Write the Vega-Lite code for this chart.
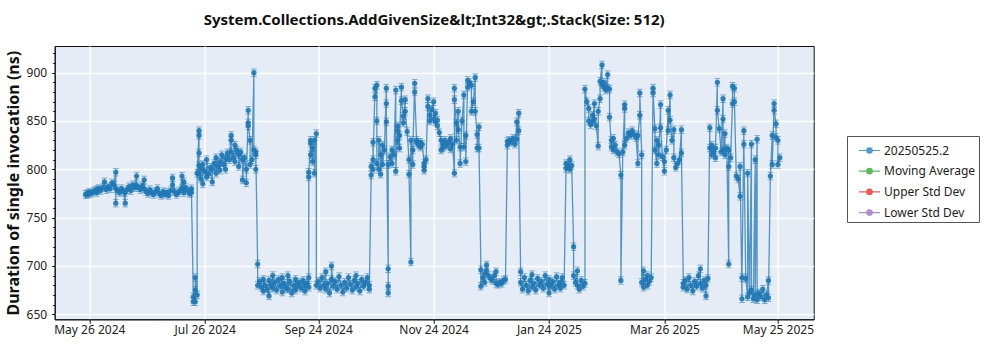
{
"$schema": "https://vega.github.io/schema/vega-lite/v6.json",
"width": 759,
"height": 273.3,
"autosize": {"type": "none"},
"padding": {"left": 54.7, "top": 46, "right": 186.3, "bottom": 30.7},
"background": "white",
"title": {"text": "System.Collections.AddGivenSize&lt;Int32&gt;.Stack(Size: 512)", "anchor": "middle", "frame": "group", "font": "Noto Sans", "fontSize": 15, "fontWeight": "bold", "color": "#111", "offset": 18},
"config": {
  "view": {"fill": "#E5ECF6", "stroke": "#111", "strokeWidth": 1},
  "axis": {"labelFont": "Noto Sans", "titleFont": "Noto Sans", "labelFontSize": 12, "labelColor": "#222", "tickColor": "#111", "domainColor": "#111", "gridColor": "white", "gridWidth": 1.4},
  "legend": {"labelFont": "Noto Sans"}
},
"data": {"values": [
{"d":"2024-05-24","v":774},{"d":"2024-05-25","v":775},{"d":"2024-05-25","v":774},{"d":"2024-05-26","v":776},{"d":"2024-05-27","v":775},{"d":"2024-05-28","v":777},{"d":"2024-05-29","v":778},{"d":"2024-05-30","v":779},{"d":"2024-05-30","v":776},{"d":"2024-05-31","v":780},
{"d":"2024-06-01","v":778},{"d":"2024-06-02","v":781},{"d":"2024-06-03","v":787},{"d":"2024-06-04","v":779},{"d":"2024-06-05","v":782},{"d":"2024-06-06","v":780},{"d":"2024-06-07","v":786},{"d":"2024-06-08","v":784},{"d":"2024-06-09","v":797},{"d":"2024-06-09","v":765},{"d":"2024-06-09","v":780},{"d":"2024-06-10","v":778},{"d":"2024-06-11","v":776},{"d":"2024-06-12","v":780},{"d":"2024-06-13","v":777},{"d":"2024-06-14","v":765},{"d":"2024-06-14","v":776},{"d":"2024-06-15","v":779},{"d":"2024-06-16","v":782},{"d":"2024-06-17","v":778},{"d":"2024-06-18","v":784},{"d":"2024-06-19","v":781},{"d":"2024-06-20","v":793},{"d":"2024-06-20","v":783},{"d":"2024-06-21","v":781},{"d":"2024-06-22","v":779},{"d":"2024-06-23","v":783},{"d":"2024-06-24","v":789},{"d":"2024-06-24","v":780},{"d":"2024-06-25","v":777},{"d":"2024-06-26","v":775},{"d":"2024-06-27","v":779},{"d":"2024-06-28","v":776},{"d":"2024-06-29","v":774},{"d":"2024-06-30","v":777},
{"d":"2024-07-01","v":780},{"d":"2024-07-02","v":775},{"d":"2024-07-03","v":773},{"d":"2024-07-04","v":777},{"d":"2024-07-05","v":774},{"d":"2024-07-06","v":776},{"d":"2024-07-07","v":773},{"d":"2024-07-08","v":778},{"d":"2024-07-09","v":784},{"d":"2024-07-09","v":791},{"d":"2024-07-10","v":777},{"d":"2024-07-11","v":774},{"d":"2024-07-12","v":776},{"d":"2024-07-13","v":778},{"d":"2024-07-14","v":793},{"d":"2024-07-14","v":780},{"d":"2024-07-15","v":787},{"d":"2024-07-15","v":776},{"d":"2024-07-16","v":781},{"d":"2024-07-17","v":778},{"d":"2024-07-18","v":775},{"d":"2024-07-19","v":780},{"d":"2024-07-19","v":776},{"d":"2024-07-20","v":668},{"d":"2024-07-20","v":663},{"d":"2024-07-21","v":675},{"d":"2024-07-21","v":663},{"d":"2024-07-21","v":688},{"d":"2024-07-22","v":670},{"d":"2024-07-22","v":796},{"d":"2024-07-23","v":840},{"d":"2024-07-23","v":835},{"d":"2024-07-23","v":817},{"d":"2024-07-23","v":804},{"d":"2024-07-23","v":795},{"d":"2024-07-24","v":800},{"d":"2024-07-24","v":790},{"d":"2024-07-25","v":785},{"d":"2024-07-25","v":805},{"d":"2024-07-26","v":798},{"d":"2024-07-27","v":792},{"d":"2024-07-27","v":810},{"d":"2024-07-28","v":795},{"d":"2024-07-29","v":802},{"d":"2024-07-30","v":787},{"d":"2024-07-30","v":800},{"d":"2024-07-31","v":806},
{"d":"2024-08-01","v":796},{"d":"2024-08-01","v":812},{"d":"2024-08-02","v":803},{"d":"2024-08-03","v":808},{"d":"2024-08-03","v":799},{"d":"2024-08-04","v":815},{"d":"2024-08-05","v":805},{"d":"2024-08-06","v":812},{"d":"2024-08-06","v":800},{"d":"2024-08-07","v":817},{"d":"2024-08-08","v":810},{"d":"2024-08-09","v":835},{"d":"2024-08-09","v":830},{"d":"2024-08-09","v":818},{"d":"2024-08-10","v":812},{"d":"2024-08-11","v":825},{"d":"2024-08-11","v":808},{"d":"2024-08-12","v":820},{"d":"2024-08-13","v":815},{"d":"2024-08-13","v":803},{"d":"2024-08-14","v":818},{"d":"2024-08-15","v":810},{"d":"2024-08-15","v":789},{"d":"2024-08-16","v":812},{"d":"2024-08-17","v":800},{"d":"2024-08-17","v":786},{"d":"2024-08-18","v":861},{"d":"2024-08-18","v":845},{"d":"2024-08-18","v":848},{"d":"2024-08-19","v":830},{"d":"2024-08-19","v":805},{"d":"2024-08-20","v":810},{"d":"2024-08-21","v":900},{"d":"2024-08-21","v":820},{"d":"2024-08-22","v":815},{"d":"2024-08-22","v":800},{"d":"2024-08-22","v":818},{"d":"2024-08-23","v":702},{"d":"2024-08-23","v":680},{"d":"2024-08-24","v":684},{"d":"2024-08-25","v":678},{"d":"2024-08-26","v":674},{"d":"2024-08-26","v":686},{"d":"2024-08-27","v":680},{"d":"2024-08-28","v":676},{"d":"2024-08-29","v":669},{"d":"2024-08-29","v":685},{"d":"2024-08-30","v":680},{"d":"2024-08-31","v":690},{"d":"2024-08-31","v":677},
{"d":"2024-09-01","v":683},{"d":"2024-09-02","v":675},{"d":"2024-09-03","v":686},{"d":"2024-09-04","v":679},{"d":"2024-09-05","v":688},{"d":"2024-09-05","v":673},{"d":"2024-09-06","v":682},{"d":"2024-09-07","v":677},{"d":"2024-09-08","v":690},{"d":"2024-09-08","v":676},{"d":"2024-09-09","v":684},{"d":"2024-09-10","v":672},{"d":"2024-09-11","v":680},{"d":"2024-09-12","v":675},{"d":"2024-09-12","v":686},{"d":"2024-09-13","v":679},{"d":"2024-09-14","v":683},{"d":"2024-09-15","v":677},{"d":"2024-09-16","v":685},{"d":"2024-09-17","v":680},{"d":"2024-09-17","v":674},{"d":"2024-09-18","v":682},{"d":"2024-09-19","v":688},{"d":"2024-09-19","v":678},{"d":"2024-09-19","v":792},{"d":"2024-09-19","v":797},{"d":"2024-09-20","v":827},{"d":"2024-09-20","v":830},{"d":"2024-09-20","v":815},{"d":"2024-09-21","v":822},{"d":"2024-09-21","v":808},{"d":"2024-09-22","v":830},{"d":"2024-09-22","v":796},{"d":"2024-09-23","v":837},{"d":"2024-09-23","v":680},{"d":"2024-09-24","v":684},{"d":"2024-09-25","v":677},{"d":"2024-09-26","v":688},{"d":"2024-09-27","v":680},{"d":"2024-09-28","v":694},{"d":"2024-09-28","v":676},{"d":"2024-09-29","v":682},{"d":"2024-09-30","v":672},
{"d":"2024-10-01","v":686},{"d":"2024-10-01","v":700},{"d":"2024-10-02","v":679},{"d":"2024-10-03","v":684},{"d":"2024-10-04","v":676},{"d":"2024-10-05","v":689},{"d":"2024-10-06","v":680},{"d":"2024-10-07","v":673},{"d":"2024-10-08","v":683},{"d":"2024-10-09","v":677},{"d":"2024-10-10","v":688},{"d":"2024-10-11","v":681},{"d":"2024-10-12","v":675},{"d":"2024-10-13","v":685},{"d":"2024-10-14","v":690},{"d":"2024-10-14","v":678},{"d":"2024-10-15","v":682},{"d":"2024-10-16","v":674},{"d":"2024-10-17","v":686},{"d":"2024-10-18","v":679},{"d":"2024-10-19","v":683},{"d":"2024-10-20","v":688},{"d":"2024-10-21","v":680},{"d":"2024-10-21","v":676},{"d":"2024-10-22","v":794},{"d":"2024-10-22","v":803},{"d":"2024-10-23","v":800},{"d":"2024-10-23","v":828},{"d":"2024-10-23","v":810},{"d":"2024-10-24","v":884},{"d":"2024-10-24","v":875},{"d":"2024-10-25","v":887},{"d":"2024-10-25","v":850},{"d":"2024-10-25","v":806},{"d":"2024-10-26","v":800},{"d":"2024-10-26","v":830},{"d":"2024-10-27","v":815},{"d":"2024-10-27","v":795},{"d":"2024-10-28","v":825},{"d":"2024-10-28","v":805},{"d":"2024-10-29","v":820},{"d":"2024-10-30","v":884},{"d":"2024-10-30","v":868},{"d":"2024-10-30","v":849},{"d":"2024-10-31","v":697},{"d":"2024-10-31","v":679},{"d":"2024-10-31","v":672},{"d":"2024-10-31","v":805},
{"d":"2024-11-01","v":813},{"d":"2024-11-02","v":806},{"d":"2024-11-02","v":820},{"d":"2024-11-03","v":815},{"d":"2024-11-04","v":882},{"d":"2024-11-04","v":798},{"d":"2024-11-05","v":840},{"d":"2024-11-05","v":845},{"d":"2024-11-05","v":830},{"d":"2024-11-06","v":822},{"d":"2024-11-06","v":835},{"d":"2024-11-07","v":885},{"d":"2024-11-07","v":871},{"d":"2024-11-08","v":855},{"d":"2024-11-08","v":848},{"d":"2024-11-09","v":872},{"d":"2024-11-09","v":860},{"d":"2024-11-10","v":839},{"d":"2024-11-11","v":810},{"d":"2024-11-11","v":795},{"d":"2024-11-12","v":704},{"d":"2024-11-12","v":830},{"d":"2024-11-13","v":805},{"d":"2024-11-13","v":820},{"d":"2024-11-14","v":889},{"d":"2024-11-14","v":880},{"d":"2024-11-15","v":830},{"d":"2024-11-15","v":828},{"d":"2024-11-16","v":825},{"d":"2024-11-17","v":823},{"d":"2024-11-17","v":828},{"d":"2024-11-18","v":826},{"d":"2024-11-19","v":806},{"d":"2024-11-19","v":799},{"d":"2024-11-19","v":803},{"d":"2024-11-20","v":810},{"d":"2024-11-21","v":873},{"d":"2024-11-21","v":865},{"d":"2024-11-22","v":856},{"d":"2024-11-22","v":850},{"d":"2024-11-23","v":862},{"d":"2024-11-24","v":870},{"d":"2024-11-24","v":852},{"d":"2024-11-25","v":858},{"d":"2024-11-25","v":849},{"d":"2024-11-26","v":851},{"d":"2024-11-26","v":845},{"d":"2024-11-27","v":838},{"d":"2024-11-28","v":830},{"d":"2024-11-28","v":820},{"d":"2024-11-29","v":826},{"d":"2024-11-29","v":822},{"d":"2024-11-30","v":830},
{"d":"2024-12-01","v":824},{"d":"2024-12-02","v":828},{"d":"2024-12-03","v":832},{"d":"2024-12-03","v":821},{"d":"2024-12-04","v":826},{"d":"2024-12-05","v":796},{"d":"2024-12-05","v":884},{"d":"2024-12-05","v":872},{"d":"2024-12-06","v":848},{"d":"2024-12-06","v":830},{"d":"2024-12-07","v":860},{"d":"2024-12-07","v":841},{"d":"2024-12-08","v":823},{"d":"2024-12-08","v":806},{"d":"2024-12-09","v":850},{"d":"2024-12-10","v":877},{"d":"2024-12-10","v":823},{"d":"2024-12-11","v":835},{"d":"2024-12-11","v":808},{"d":"2024-12-12","v":892},{"d":"2024-12-12","v":885},{"d":"2024-12-13","v":890},{"d":"2024-12-14","v":887},{"d":"2024-12-14","v":860},{"d":"2024-12-15","v":870},{"d":"2024-12-16","v":895},{"d":"2024-12-16","v":860},{"d":"2024-12-17","v":836},{"d":"2024-12-17","v":822},{"d":"2024-12-18","v":844},{"d":"2024-12-18","v":822},{"d":"2024-12-19","v":696},{"d":"2024-12-19","v":679},{"d":"2024-12-20","v":688},{"d":"2024-12-21","v":683},{"d":"2024-12-21","v":692},{"d":"2024-12-22","v":701},{"d":"2024-12-22","v":695},{"d":"2024-12-23","v":690},{"d":"2024-12-24","v":687},{"d":"2024-12-25","v":685},{"d":"2024-12-26","v":690},{"d":"2024-12-27","v":694},{"d":"2024-12-27","v":682},{"d":"2024-12-28","v":681},{"d":"2024-12-29","v":683},{"d":"2024-12-30","v":682},{"d":"2024-12-31","v":685},
{"d":"2025-01-01","v":686},{"d":"2025-01-02","v":829},{"d":"2025-01-02","v":825},{"d":"2025-01-03","v":830},{"d":"2025-01-04","v":828},{"d":"2025-01-05","v":832},{"d":"2025-01-06","v":826},{"d":"2025-01-07","v":849},{"d":"2025-01-07","v":831},{"d":"2025-01-08","v":858},{"d":"2025-01-08","v":840},{"d":"2025-01-09","v":694},{"d":"2025-01-09","v":683},{"d":"2025-01-10","v":676},{"d":"2025-01-11","v":688},{"d":"2025-01-12","v":680},{"d":"2025-01-13","v":674},{"d":"2025-01-14","v":685},{"d":"2025-01-15","v":691},{"d":"2025-01-15","v":678},{"d":"2025-01-16","v":682},{"d":"2025-01-17","v":675},{"d":"2025-01-18","v":687},{"d":"2025-01-19","v":680},{"d":"2025-01-20","v":684},{"d":"2025-01-21","v":677},{"d":"2025-01-22","v":690},{"d":"2025-01-23","v":681},{"d":"2025-01-24","v":672},{"d":"2025-01-24","v":686},{"d":"2025-01-25","v":679},{"d":"2025-01-26","v":684},{"d":"2025-01-27","v":676},{"d":"2025-01-28","v":689},{"d":"2025-01-29","v":680},{"d":"2025-01-30","v":683},{"d":"2025-01-30","v":677},{"d":"2025-01-31","v":688},
{"d":"2025-02-01","v":680},{"d":"2025-02-02","v":801},{"d":"2025-02-02","v":806},{"d":"2025-02-03","v":803},{"d":"2025-02-04","v":810},{"d":"2025-02-04","v":800},{"d":"2025-02-05","v":804},{"d":"2025-02-06","v":720},{"d":"2025-02-06","v":690},{"d":"2025-02-07","v":683},{"d":"2025-02-08","v":695},{"d":"2025-02-08","v":680},{"d":"2025-02-09","v":676},{"d":"2025-02-10","v":685},{"d":"2025-02-11","v":679},{"d":"2025-02-12","v":682},{"d":"2025-02-12","v":883},{"d":"2025-02-13","v":870},{"d":"2025-02-14","v":863},{"d":"2025-02-14","v":850},{"d":"2025-02-15","v":846},{"d":"2025-02-16","v":856},{"d":"2025-02-16","v":849},{"d":"2025-02-17","v":868},{"d":"2025-02-17","v":852},{"d":"2025-02-18","v":845},{"d":"2025-02-19","v":824},{"d":"2025-02-19","v":860},{"d":"2025-02-20","v":873},{"d":"2025-02-20","v":891},{"d":"2025-02-21","v":908},{"d":"2025-02-21","v":888},{"d":"2025-02-22","v":885},{"d":"2025-02-22","v":890},{"d":"2025-02-23","v":882},{"d":"2025-02-24","v":898},{"d":"2025-02-24","v":884},{"d":"2025-02-25","v":883},{"d":"2025-02-25","v":854},{"d":"2025-02-26","v":823},{"d":"2025-02-26","v":830},{"d":"2025-02-27","v":832},{"d":"2025-02-27","v":820},{"d":"2025-02-28","v":825},
{"d":"2025-03-01","v":818},{"d":"2025-03-02","v":816},{"d":"2025-03-03","v":794},{"d":"2025-03-03","v":685},{"d":"2025-03-04","v":818},{"d":"2025-03-05","v":867},{"d":"2025-03-05","v":863},{"d":"2025-03-05","v":825},{"d":"2025-03-06","v":832},{"d":"2025-03-07","v":838},{"d":"2025-03-08","v":835},{"d":"2025-03-09","v":840},{"d":"2025-03-10","v":836},{"d":"2025-03-11","v":833},{"d":"2025-03-12","v":806},{"d":"2025-03-12","v":835},{"d":"2025-03-13","v":856},{"d":"2025-03-13","v":879},{"d":"2025-03-14","v":815},{"d":"2025-03-14","v":683},{"d":"2025-03-15","v":695},{"d":"2025-03-15","v":678},{"d":"2025-03-16","v":686},{"d":"2025-03-17","v":690},{"d":"2025-03-17","v":680},{"d":"2025-03-18","v":684},{"d":"2025-03-19","v":688},{"d":"2025-03-20","v":884},{"d":"2025-03-20","v":879},{"d":"2025-03-21","v":842},{"d":"2025-03-21","v":820},{"d":"2025-03-22","v":806},{"d":"2025-03-22","v":830},{"d":"2025-03-23","v":825},{"d":"2025-03-23","v":815},{"d":"2025-03-24","v":867},{"d":"2025-03-24","v":843},{"d":"2025-03-25","v":813},{"d":"2025-03-26","v":798},{"d":"2025-03-26","v":808},{"d":"2025-03-27","v":820},{"d":"2025-03-28","v":861},{"d":"2025-03-28","v":840},{"d":"2025-03-29","v":877},{"d":"2025-03-29","v":851},{"d":"2025-03-30","v":830},{"d":"2025-03-31","v":841},{"d":"2025-03-31","v":812},
{"d":"2025-04-01","v":802},{"d":"2025-04-02","v":806},{"d":"2025-04-03","v":810},{"d":"2025-04-04","v":841},{"d":"2025-04-04","v":817},{"d":"2025-04-05","v":682},{"d":"2025-04-05","v":678},{"d":"2025-04-06","v":685},{"d":"2025-04-07","v":676},{"d":"2025-04-08","v":688},{"d":"2025-04-09","v":680},{"d":"2025-04-10","v":674},{"d":"2025-04-11","v":684},{"d":"2025-04-12","v":679},{"d":"2025-04-13","v":690},{"d":"2025-04-14","v":697},{"d":"2025-04-14","v":682},{"d":"2025-04-15","v":677},{"d":"2025-04-16","v":685},{"d":"2025-04-17","v":669},{"d":"2025-04-17","v":680},{"d":"2025-04-18","v":687},{"d":"2025-04-19","v":843},{"d":"2025-04-19","v":822},{"d":"2025-04-20","v":815},{"d":"2025-04-20","v":825},{"d":"2025-04-21","v":818},{"d":"2025-04-22","v":812},{"d":"2025-04-22","v":822},{"d":"2025-04-23","v":890},{"d":"2025-04-23","v":861},{"d":"2025-04-24","v":842},{"d":"2025-04-25","v":818},{"d":"2025-04-26","v":873},{"d":"2025-04-26","v":852},{"d":"2025-04-26","v":820},{"d":"2025-04-27","v":837},{"d":"2025-04-27","v":815},{"d":"2025-04-28","v":822},{"d":"2025-04-29","v":702},{"d":"2025-04-29","v":820},{"d":"2025-04-29","v":803},{"d":"2025-04-30","v":812},
{"d":"2025-05-01","v":868},{"d":"2025-05-01","v":886},{"d":"2025-05-02","v":884},{"d":"2025-05-02","v":870},{"d":"2025-05-03","v":793},{"d":"2025-05-04","v":790},{"d":"2025-05-05","v":772},{"d":"2025-05-05","v":803},{"d":"2025-05-06","v":666},{"d":"2025-05-06","v":688},{"d":"2025-05-07","v":840},{"d":"2025-05-07","v":826},{"d":"2025-05-08","v":687},{"d":"2025-05-09","v":668},{"d":"2025-05-09","v":796},{"d":"2025-05-10","v":672},{"d":"2025-05-11","v":826},{"d":"2025-05-11","v":675},{"d":"2025-05-12","v":666},{"d":"2025-05-13","v":810},{"d":"2025-05-13","v":670},{"d":"2025-05-14","v":831},{"d":"2025-05-14","v":665},{"d":"2025-05-15","v":672},{"d":"2025-05-16","v":668},{"d":"2025-05-17","v":676},{"d":"2025-05-18","v":665},{"d":"2025-05-19","v":670},{"d":"2025-05-20","v":685},{"d":"2025-05-20","v":667},{"d":"2025-05-21","v":793},{"d":"2025-05-22","v":835},{"d":"2025-05-22","v":805},{"d":"2025-05-23","v":868},{"d":"2025-05-23","v":861},{"d":"2025-05-24","v":847},{"d":"2025-05-24","v":833},{"d":"2025-05-25","v":830},{"d":"2025-05-25","v":805},{"d":"2025-05-26","v":812}
]},
"encoding": {
  "x": {"field": "d", "type": "temporal", "title": null,
    "scale": {"type": "utc", "domain": [{"year": 2024, "month": 5, "date": 7, "hours": 17, "utc": true}, {"year": 2025, "month": 6, "date": 12, "hours": 22, "utc": true}]},
    "axis": {"values": [{"year": 2024, "month": 5, "date": 26, "utc": true}, {"year": 2024, "month": 7, "date": 26, "utc": true}, {"year": 2024, "month": 9, "date": 24, "utc": true}, {"year": 2024, "month": 11, "date": 24, "utc": true}, {"year": 2025, "month": 1, "date": 24, "utc": true}, {"year": 2025, "month": 3, "date": 26, "utc": true}, {"year": 2025, "month": 5, "date": 25, "utc": true}],
      "format": "%b %d %Y", "tickSize": 4, "labelPadding": 1, "labelFlush": false, "labelOverlap": false}},
  "color": {"datum": "20250525.2",
    "scale": {"domain": ["20250525.2", "Moving Average", "Upper Std Dev", "Lower Std Dev"], "range": ["#1f77b4", "#2ca02c", "#d62728", "#9467bd"]},
    "legend": {"title": null, "orient": "none", "legendX": 792.3, "legendY": 90, "fillColor": "white", "strokeColor": "#555", "padding": 3, "symbolOffset": 8, "labelOffset": 3, "rowPadding": 2.7, "symbolSize": 441, "symbolStrokeWidth": 1.2, "labelFontSize": 12, "labelColor": "#222", "symbolType": "M-1,0L1,0M0.26,0A0.26,0.26,0,1,1,-0.26,0A0.26,0.26,0,1,1,0.26,0",
      "encode": {"symbols": {"update": {"fill": {"scale": "color", "field": "value"}, "stroke": {"scale": "color", "field": "value"}, "opacity": {"value": 1}}}}}}
},
"layer": [
  {"mark": {"type": "line", "strokeWidth": 1.3, "opacity": 0.75},
   "encoding": {"y": {"field": "v", "type": "quantitative",
    "scale": {"domain": [644.8, 927.6], "nice": false, "zero": false},
    "axis": {"orient": "left", "values": [650, 700, 750, 800, 850, 900], "title": "Duration of single invocation (ns)", "titleFontSize": 16, "titleFontWeight": "bold", "titleColor": "#111", "titlePadding": 5, "tickSize": 3, "labelPadding": 5}}}},
  {"mark": {"type": "point", "shape": "M-0.75,-1H0.75M0,-1V1M-0.75,1H0.75", "filled": false, "size": 56, "strokeWidth": 1, "opacity": 0.55},
   "encoding": {"y": {"field": "v", "type": "quantitative", "scale": {"domain": [644.8, 927.6], "nice": false, "zero": false}, "axis": null}}},
  {"mark": {"type": "point", "filled": true, "size": 28, "opacity": 0.9},
   "encoding": {"y": {"field": "v", "type": "quantitative", "scale": {"domain": [644.8, 927.6], "nice": false, "zero": false}, "axis": null}}},
  {"mark": {"type": "rule", "opacity": 0}, "encoding": {"x": null, "color": null, "y": {"datum": 700, "type": "quantitative", "scale": {"domain": [644.8, 927.6], "nice": false, "zero": false},
    "axis": {"orient": "left", "values": [660, 670, 680, 690, 710, 720, 730, 740, 760, 770, 780, 790, 810, 820, 830, 840, 860, 870, 880, 890, 910, 920], "labels": false, "grid": false, "domain": false, "title": null, "tickSize": 2}}}}
],
"resolve": {"axis": {"y": "independent"}}
}
